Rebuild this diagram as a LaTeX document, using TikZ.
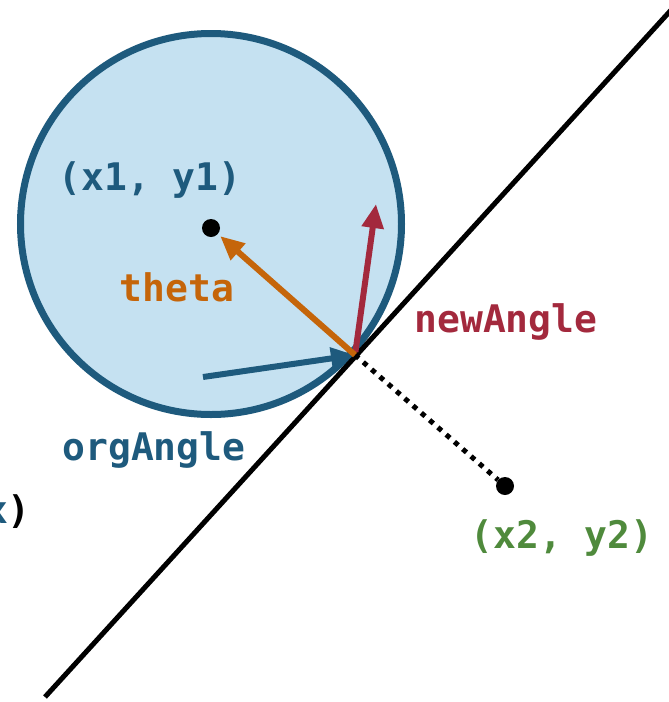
\documentclass[tikz,border=0pt]{standalone}
\usepackage{fontspec}
\setmonofont{DejaVu Sans Mono}
\usepackage{tikz}
\usetikzlibrary{arrows.meta,positioning,calc}
\definecolor{bordC}{HTML}{1E5A7D}
\definecolor{fondC}{HTML}{C5E1F1}
\definecolor{orangeC}{HTML}{C5650A}
\definecolor{rougeC}{HTML}{A3293D}
\definecolor{vertC}{HTML}{4F8A3C}
\tikzset{
  lbl/.style={font=\ttfamily\bfseries\fontsize{38}{45}\selectfont, text=#1, inner sep=0pt},
  pt/.style={circle, fill=black, minimum size=18pt, inner sep=0pt},
  vec/.style={-{Triangle[length=24pt,width=21pt]}, line width=6pt, draw=#1},
}
\begin{document}
\begin{tikzpicture}[x=1pt, y=-1pt]
        \useasboundingbox (0,0) rectangle (669,702);
        \clip (0,0) rectangle (669,702);
        \node[circle, draw=bordC, fill=fondC, line width=7pt, minimum size=381pt, inner sep=0pt] (cercle) at (211,224) {};
        \coordinate (la) at (45,697);
        \coordinate (lb) at (672,9);
        \coordinate (p) at (355,355);
        \coordinate (org) at (203,377);
        \coordinate (nw) at (376,204);
        \node[pt] (c1) at (211,228) {};
        \node[pt] (c2) at (505,486) {};
        \draw[line width=5pt] (la) -- (lb);
        \draw[line width=5pt, dash pattern=on 5pt off 6pt] (p) -- (c2);
        \draw[vec=bordC] (org) -- (p);
        \draw[vec=rougeC, shorten <=3pt] (p) -- (nw);
        \draw[vec=orangeC, shorten >=3pt] (p) -- (c1);
        \node[lbl=bordC] (t1) at (150,180) {(x1, y1)};
        \node[lbl=orangeC] (th) at (177,287) {theta};
        \node[lbl=rougeC] (na) at (506,322) {newAngle};
        \node[lbl=bordC] (oa) at (154,450) {orgAngle};
        \node[lbl=vertC] (t2) at (562,538) {(x2, y2)};
        \node[lbl=bordC, anchor=east] (tx) at (31,512) {x\textcolor{black}{)}};
      \end{tikzpicture}
\end{document}
